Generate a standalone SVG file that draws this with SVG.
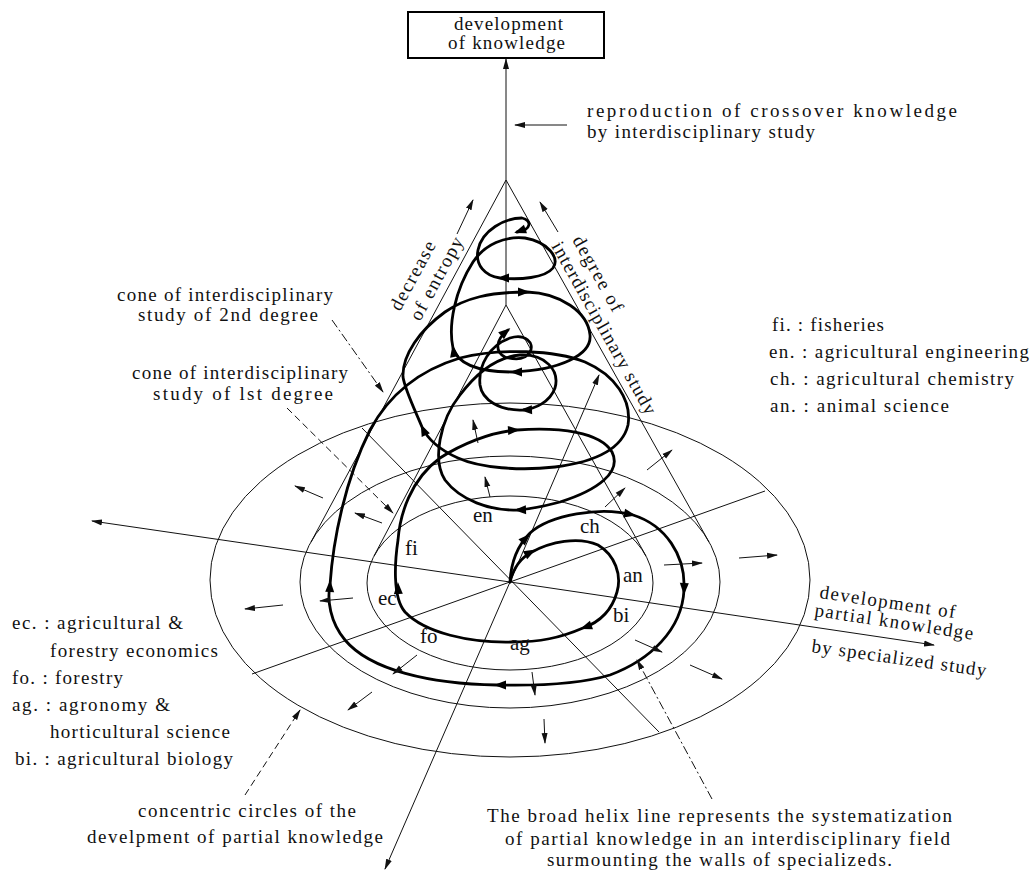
<svg xmlns="http://www.w3.org/2000/svg" width="1032" height="872" viewBox="0 0 1032 872">
<style>
 .t{font-family:"Liberation Serif","Times New Roman",serif;font-size:19px;fill:#111}
 .lab{font-family:"Liberation Serif","Times New Roman",serif;font-size:21px;fill:#111}
 .thin{fill:none;stroke:#111;stroke-width:1}
 .thick{fill:none;stroke:#000;stroke-width:2.8;stroke-linecap:round;stroke-linejoin:round}
 .dash{fill:none;stroke:#111;stroke-width:1;stroke-dasharray:7 4;marker-end:url(#ah)}
 .dashdot{fill:none;stroke:#111;stroke-width:1;stroke-dasharray:9 3 2 3;marker-end:url(#ah)}
 .arr{fill:none;stroke:#111;stroke-width:1;marker-end:url(#ah)}
</style>
<defs>
 <marker id="ah" markerWidth="11" markerHeight="7" refX="10" refY="3.5" orient="auto" markerUnits="userSpaceOnUse"><path d="M0,0.5 L11,3.5 L0,6.5 z" fill="#111"/></marker>
 <path id="tah" d="M3,0 L-9,-4.5 L-9,4.5 Z" fill="#000"/>
</defs>
<rect width="1032" height="872" fill="#fff"/>

<g id="box">
 <rect x="408" y="12" width="196" height="46" fill="#fff" stroke="#000" stroke-width="2"/>
 <text class="t" x="454" y="30" textLength="109">development</text>
 <text class="t" x="448" y="49" textLength="117">of knowledge</text>
</g>

<g id="ellipses">
 <ellipse class="thin" cx="510" cy="580" rx="300" ry="177"/>
 <ellipse class="thin" cx="510" cy="582" rx="210" ry="126"/>
 <ellipse class="thin" cx="510" cy="583" rx="143" ry="87"/>
</g>

<g id="cones">
 <line class="thin" x1="506" y1="180" x2="311" y2="542"/>
 <line class="thin" x1="506" y1="180" x2="709" y2="542"/>
 <line class="thin" x1="506" y1="305" x2="374" y2="556"/>
 <line class="thin" x1="506" y1="305" x2="646" y2="556"/>
</g>

<g id="axes">
 <line class="arr" x1="506" y1="305" x2="506" y2="59"/>
 <line class="arr" x1="510" y1="582" x2="92" y2="521"/>
 <line class="arr" x1="510" y1="582" x2="934" y2="645"/>
 <line class="arr" x1="510" y1="582" x2="599" y2="375"/>
 <line class="arr" x1="510" y1="582" x2="385" y2="869"/>
 <line class="thin" x1="362" y1="428" x2="659" y2="732"/>
 <line class="thin" x1="252" y1="674" x2="765" y2="491"/>
</g>

<g id="helix">
 <path class="thick" d="M510,582 C511,562 518,545 530,533 C550,515 600,506 633,515 C665,525 686,555 684,590 C682,630 650,660 610,675 C580,684 540,686 497,685 C430,684 370,670 345,640 C330,622 327,600 330,585 C333,540 345,480 370,430 C390,393 420,370 460,358 C500,348 555,350 585,362 C615,375 632,400 628,425 C622,450 595,462 555,467 C520,471 480,468 458,458 C440,450 428,440 422,427 C415,410 405,390 403,377 C402,355 420,330 445,312 C465,298 490,292 527,292 C560,293 588,312 590,335 C592,355 560,370 513,372 C480,372 458,365 453,348 C448,325 455,290 473,262 C485,244 505,236 525,238 C548,242 560,258 553,268 C545,278 520,280 500,278 C485,276 475,265 478,250 C482,230 505,218 522,218 C532,220 532,230 517,232"/>
 <path class="thick" d="M510,582 C514,566 522,557 532,552 C550,542 578,536 598,545 C615,555 622,575 617,592 C612,610 600,622 583,628 C560,638 540,642 512,642 C470,643 425,633 405,612 C392,597 395,560 398,540 C400,515 410,480 440,458 C460,445 490,432 517,430 C560,427 600,432 612,452 C622,472 598,490 560,502 C545,506 530,509 517,510 C490,511 460,500 445,480 C432,460 440,420 460,395 C475,375 495,357 520,355 C545,354 560,370 555,388 C550,402 535,409 523,410 C500,411 482,400 480,385 C478,365 490,345 510,338 C525,333 535,343 530,352 C525,360 515,360 505,357 C495,352 495,340 508,330"/>
 <use href="#tah" transform="translate(528,536) rotate(-45)"/>
 <use href="#tah" transform="translate(533,551) rotate(-28)"/>
 <use href="#tah" transform="translate(633,515) rotate(12)"/>
 <use href="#tah" transform="translate(684,592) rotate(92)"/>
 <use href="#tah" transform="translate(497,685) rotate(180)"/>
 <use href="#tah" transform="translate(330,583) rotate(-88)"/>
 <use href="#tah" transform="translate(583,628) rotate(160)"/>
 <use href="#tah" transform="translate(398,585) rotate(-92)"/>
 <use href="#tah" transform="translate(517,430) rotate(-3)"/>
 <use href="#tah" transform="translate(422,427) rotate(-115)"/>
 <use href="#tah" transform="translate(517,510) rotate(178)"/>
 <use href="#tah" transform="translate(523,410) rotate(178)"/>
 <use href="#tah" transform="translate(527,292) rotate(0)"/>
 <use href="#tah" transform="translate(453,348) rotate(-100)"/>
 <use href="#tah" transform="translate(500,278) rotate(180)"/>
 <use href="#tah" transform="translate(513,372) rotate(180)"/>
 <use href="#tah" transform="translate(508,330) rotate(-40)"/>
 <use href="#tah" transform="translate(517,232) rotate(160)"/>
</g>

<g id="connectors">
 <line class="arr" x1="567" y1="125" x2="515" y2="125"/>
 <line class="arr" x1="558" y1="232" x2="540" y2="202"/>
 <line class="arr" x1="457" y1="234" x2="473" y2="200"/>
 <line class="dashdot" x1="332" y1="320" x2="383" y2="392"/>
 <line class="dash" x1="287" y1="408" x2="393" y2="513"/>
 <line class="dash" x1="245" y1="795" x2="300" y2="710"/>
 <line class="dashdot" x1="712" y1="799" x2="637" y2="660"/>
 <line class="arr" x1="323" y1="498" x2="295" y2="486"/>
 <line class="arr" x1="283" y1="605" x2="245" y2="609"/>
 <line class="arr" x1="372" y1="692" x2="348" y2="710"/>
 <line class="arr" x1="544" y1="719" x2="545" y2="743"/>
 <line class="arr" x1="690" y1="665" x2="722" y2="679"/>
 <line class="arr" x1="739" y1="558" x2="777" y2="555"/>
 <line class="arr" x1="647" y1="470" x2="672" y2="450"/>
 <line class="arr" x1="478" y1="443" x2="473" y2="420"/>
 <line class="arr" x1="382" y1="523" x2="355" y2="513"/>
 <line class="arr" x1="353" y1="598" x2="320" y2="601"/>
 <line class="arr" x1="417" y1="655" x2="393" y2="674"/>
 <line class="arr" x1="532" y1="672" x2="535" y2="695"/>
 <line class="arr" x1="635" y1="640" x2="662" y2="652"/>
 <line class="arr" x1="664" y1="565" x2="702" y2="563"/>
 <line class="arr" x1="605" y1="507" x2="625" y2="488"/>
 <line class="arr" x1="490" y1="497" x2="485" y2="477"/>
</g>

<g id="labels">
 <text class="t" x="587" y="117" textLength="370">reproduction of crossover knowledge</text>
 <text class="t" x="587" y="138" textLength="228">by interdisciplinary study</text>
 <text class="t" x="117" y="301" textLength="216">cone of interdisciplinary</text>
 <text class="t" x="138" y="321" textLength="180">study of 2nd degree</text>
 <text class="t" x="132" y="379" textLength="216">cone of interdisciplinary</text>
 <text class="t" x="153" y="400" textLength="180">study of  lst degree</text>
 <text class="t" transform="translate(400,312) rotate(-61.6)" textLength="76">decrease</text>
 <text class="t" transform="translate(420,322) rotate(-61.6)" textLength="92">of entropy</text>
 <text class="t" transform="translate(572,240) rotate(60.7)" textLength="84">degree of</text>
 <text class="t" transform="translate(551,246) rotate(60.7)" textLength="195">interdisciplinary study</text>
 <text class="t" x="772" y="331" textLength="112">fi. : fisheries</text>
 <text class="t" x="769" y="358" textLength="260">en. : agricultural engineering</text>
 <text class="t" x="770" y="385" textLength="244">ch. : agricultural chemistry</text>
 <text class="t" x="770" y="412" textLength="179">an. : animal science</text>
 <text class="t" x="12" y="629" textLength="171">ec. : agricultural &amp;</text>
 <text class="t" x="50" y="657" textLength="168">forestry economics</text>
 <text class="t" x="12" y="684" textLength="111">fo. : forestry</text>
 <text class="t" x="12" y="711" textLength="158">ag. : agronomy &amp;</text>
 <text class="t" x="50" y="738" textLength="180">horticultural science</text>
 <text class="t" x="15" y="765" textLength="218">bi. : agricultural biology</text>
 <text class="t" x="138" y="817" textLength="218">concentric circles of the</text>
 <text class="t" x="87" y="843" textLength="296">develpment of partial knowledge</text>
 <text class="t" x="487" y="822" textLength="465">The broad helix line represents the systematization</text>
 <text class="t" x="505" y="845" textLength="445">of partial knowledge in an interdisciplinary field</text>
 <text class="t" x="547" y="866" textLength="345">surmounting the walls of specializeds.</text>
 <text class="t" transform="translate(819,598) rotate(8.5)" textLength="137">development of</text>
 <text class="t" transform="translate(814,616) rotate(8.5)" textLength="160">partial knowledge</text>
 <text class="t" transform="translate(811,652) rotate(8)" textLength="176">by specialized study</text>
 <text class="lab" x="473" y="522">en</text>
 <text class="lab" x="580" y="533">ch</text>
 <text class="lab" x="405" y="555">fi</text>
 <text class="lab" x="623" y="582">an</text>
 <text class="lab" x="378" y="605">ec</text>
 <text class="lab" x="613" y="622">bi</text>
 <text class="lab" x="420" y="643">fo</text>
 <text class="lab" x="510" y="650">ag</text>
</g>
</svg>
